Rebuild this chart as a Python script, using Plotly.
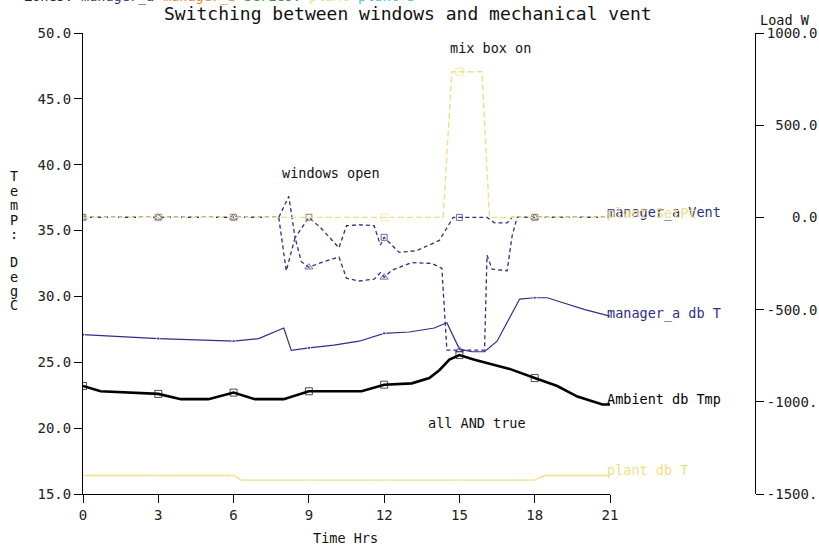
import plotly.graph_objects as go

# time axis values and series
amb_hrs = [0, 0.7, 3, 3.9, 5.0, 6, 6.85, 8.0, 9, 11.1, 12, 13.1, 13.8, 14.2, 14.6, 15,
           15.6, 16.6, 17, 18, 18.9, 19.7, 20.7, 21]
amb_t = [23.2, 22.8, 22.6, 22.2, 22.2, 22.7, 22.2, 22.2, 22.8, 22.8, 23.3, 23.4, 23.8, 24.4,
         25.2, 25.55, 25.2, 24.7, 24.5, 23.8, 23.2, 22.4, 21.8, 21.8]

mgr_hrs = [0, 3, 6, 7, 8.0, 8.3, 9, 10, 11, 12, 13, 14, 14.5, 15, 15.5, 16, 16.5, 17,
           17.4, 18, 18.5, 19, 20, 21]
mgr_t = [27.1, 26.8, 26.6, 26.8, 27.6, 25.9, 26.1, 26.3, 26.6, 27.2, 27.3, 27.6, 28.0,
         26.0, 25.8, 25.8, 26.6, 28.4, 29.8, 29.9, 29.9, 29.6, 29.0, 28.5]

plant_hrs = [0, 3, 6, 6.3, 9, 12, 15, 18, 18.4, 21]
plant_t = [16.4, 16.4, 16.4, 16.05, 16.05, 16.05, 16.05, 16.05, 16.4, 16.4]

vent_a_hrs = [0, 3, 6, 7.8, 8.2, 8.45, 9, 9.5, 10.2, 10.5, 11.0, 11.6, 11.85, 12, 12.6,
              13.3, 14.2, 14.5, 14.75, 15, 16.1, 16.4, 16.9, 17.1, 18, 21]
vent_a_w = [0, 0, 0, 0, 114, -110, 0, -60, -165, -45, -40, -45, -150, -108, -190, -180,
            -125, -54, 0, 0, 0, -30, -30, 0, 0, 0]

vent_b_hrs = [0, 3, 6, 7.8, 8.1, 8.45, 8.7, 9, 9.6, 10.2, 10.5, 11.0, 11.6, 11.85, 12,
              12.3, 13.1, 13.9, 14.3, 14.5, 15, 16.0, 16.1, 16.3, 16.9, 17.1, 17.3, 18, 21]
vent_b_w = [0, 0, 0, 0, -290, -110, -240, -270, -240, -215, -330, -345, -335, -300, -325,
            -287, -245, -250, -276, -720, -720, -720, -205, -280, -290, -100, 0, 0, 0]

mix_hrs = [0, 3, 6, 9, 12, 14.35, 14.7, 15, 15.9, 16.2, 18, 21]
mix_w = [0, 0, 0, 0, 0, 0, 790, 790, 790, 0, 0, 0]

x_ticks = [0, 3, 6, 9, 12, 15, 18, 21]
load_ticks = [1000, 500, 0, -500, -1000, -1500]
load_labels = ["1000.0", " 500.0", "   0.0", "-500.0", "-1000.", "-1500."]

BLUE = "#2e2e86"
YEL = "#f0e084"
FONT = "DejaVu Sans Mono"

W, H = 819, 550
L, R, T, B = 83, W - 755, 33, H - 494


def px(x, y):
    # pixel -> paper coords
    return (x - L) / (W - L - R), (H - B - y) / (H - T - B)


def msize(hrs, s):
    return [s if (h % 3 == 0 and h < 21) else 0 for h in hrs]


fig = go.Figure()

fig.add_trace(go.Scatter(x=vent_b_hrs, y=vent_b_w, yaxis="y2", mode="lines+markers",
                         line=dict(color=BLUE, width=1.3, dash="4px,3px"),
                         marker=dict(symbol="triangle-up-open", size=msize(vent_b_hrs, 7), color=BLUE)))
fig.add_trace(go.Scatter(x=vent_a_hrs, y=vent_a_w, yaxis="y2", mode="lines+markers",
                         line=dict(color=BLUE, width=1.3, dash="4px,3px"),
                         marker=dict(symbol="square-open", size=msize(vent_a_hrs, 6), color=BLUE)))
fig.add_trace(go.Scatter(x=mix_hrs, y=mix_w, yaxis="y2", mode="lines+markers",
                         line=dict(color=YEL, width=1.4, dash="6px,3px"),
                         marker=dict(symbol="square-open", size=msize(mix_hrs, 7), color=YEL)))
fig.add_trace(go.Scatter(x=plant_hrs, y=plant_t, mode="lines+markers",
                         line=dict(color=YEL, width=1.4),
                         marker=dict(symbol="square", size=msize(plant_hrs, 3), color=YEL)))
fig.add_trace(go.Scatter(x=mgr_hrs, y=mgr_t, mode="lines+markers",
                         line=dict(color=BLUE, width=1.2),
                         marker=dict(symbol="square", size=msize(mgr_hrs, 3), color=BLUE)))
fig.add_trace(go.Scatter(x=amb_hrs, y=amb_t, mode="lines+markers",
                         line=dict(color="black", width=2.6),
                         marker=dict(symbol="square-open", size=msize(amb_hrs, 7), color="black")))

xd = (610 - L) / (W - L - R)
ax_common = dict(ticks="outside", ticklen=8, showline=True, linecolor="black", linewidth=1,
                 showgrid=False, zeroline=False, tickcolor="black", automargin=False,
                 tickfont=dict(family=FONT, size=14, color="#222"))

fig.update_layout(
    width=W, height=H, margin=dict(l=L, r=R, t=T, b=B),
    plot_bgcolor="white", paper_bgcolor="white", showlegend=False,
    font=dict(family=FONT, size=13, color="#222"),
    xaxis=dict(domain=[0, xd], range=[0, 21], tickmode="array", tickvals=x_ticks, **ax_common),
    yaxis=dict(range=[15, 50], dtick=5, tickformat=".1f", **ax_common),
    yaxis2=dict(range=[-1500, 1000], overlaying="y", side="right", anchor="free", position=1.0,
                tickmode="array", tickvals=load_ticks,
                ticktext=[t.replace(" ", "\u00a0") for t in load_labels], **ax_common),
)


def note(text, x, y, color="#111", size=13.5, anchor="center"):
    ax, ay = px(x, y)
    fig.add_annotation(text=text, x=ax, y=ay, xref="paper", yref="paper", showarrow=False,
                       xanchor=anchor, yanchor="middle", font=dict(family=FONT, size=size, color=color))


note("Switching between windows and mechanical vent", 408, 13, size=18)
note("Load W", 758, 20, anchor="left")
note("windows open", 331, 173)
note("mix box on", 491, 48)
note("all AND true", 477, 423)
note("Time Hrs", 345, 538)
note("manager_a db T", 605, 313, color=BLUE, anchor="left")
note("Ambient db Tmp", 605, 399, color="black", anchor="left")
note("plant db T", 605, 470, color=YEL, anchor="left")
note("manager_a Vent", 605, 213, color=BLUE, anchor="left")
note("plant SetPt", 605, 213, color=YEL, anchor="left")

# stacked y axis title
for i, ch in enumerate("TemP:"):
    note(ch, 14, 176 + i * 14.5)
for i, ch in enumerate("DegC"):
    note(ch, 14, 262 + i * 14.5)

# legend line, cut off at the very top in the original
legend = [("Zones:", "#222"), ("manager_a", BLUE), ("manager_b", "#e08a2e"),
          ("Series:", "#3a9a3a"), ("plant", YEL), ("plant b", "#3cc8c8")]
xpos = 22
for txt, col in legend:
    note(txt, xpos, -4, color=col, anchor="left")
    xpos += (len(txt) + 1) * 8.15

# drop the default page margin so the figure sits at the window corner
fig.write_html("out.html", config={"displayModeBar": False},
               post_script="document.body.style.margin='0';")
